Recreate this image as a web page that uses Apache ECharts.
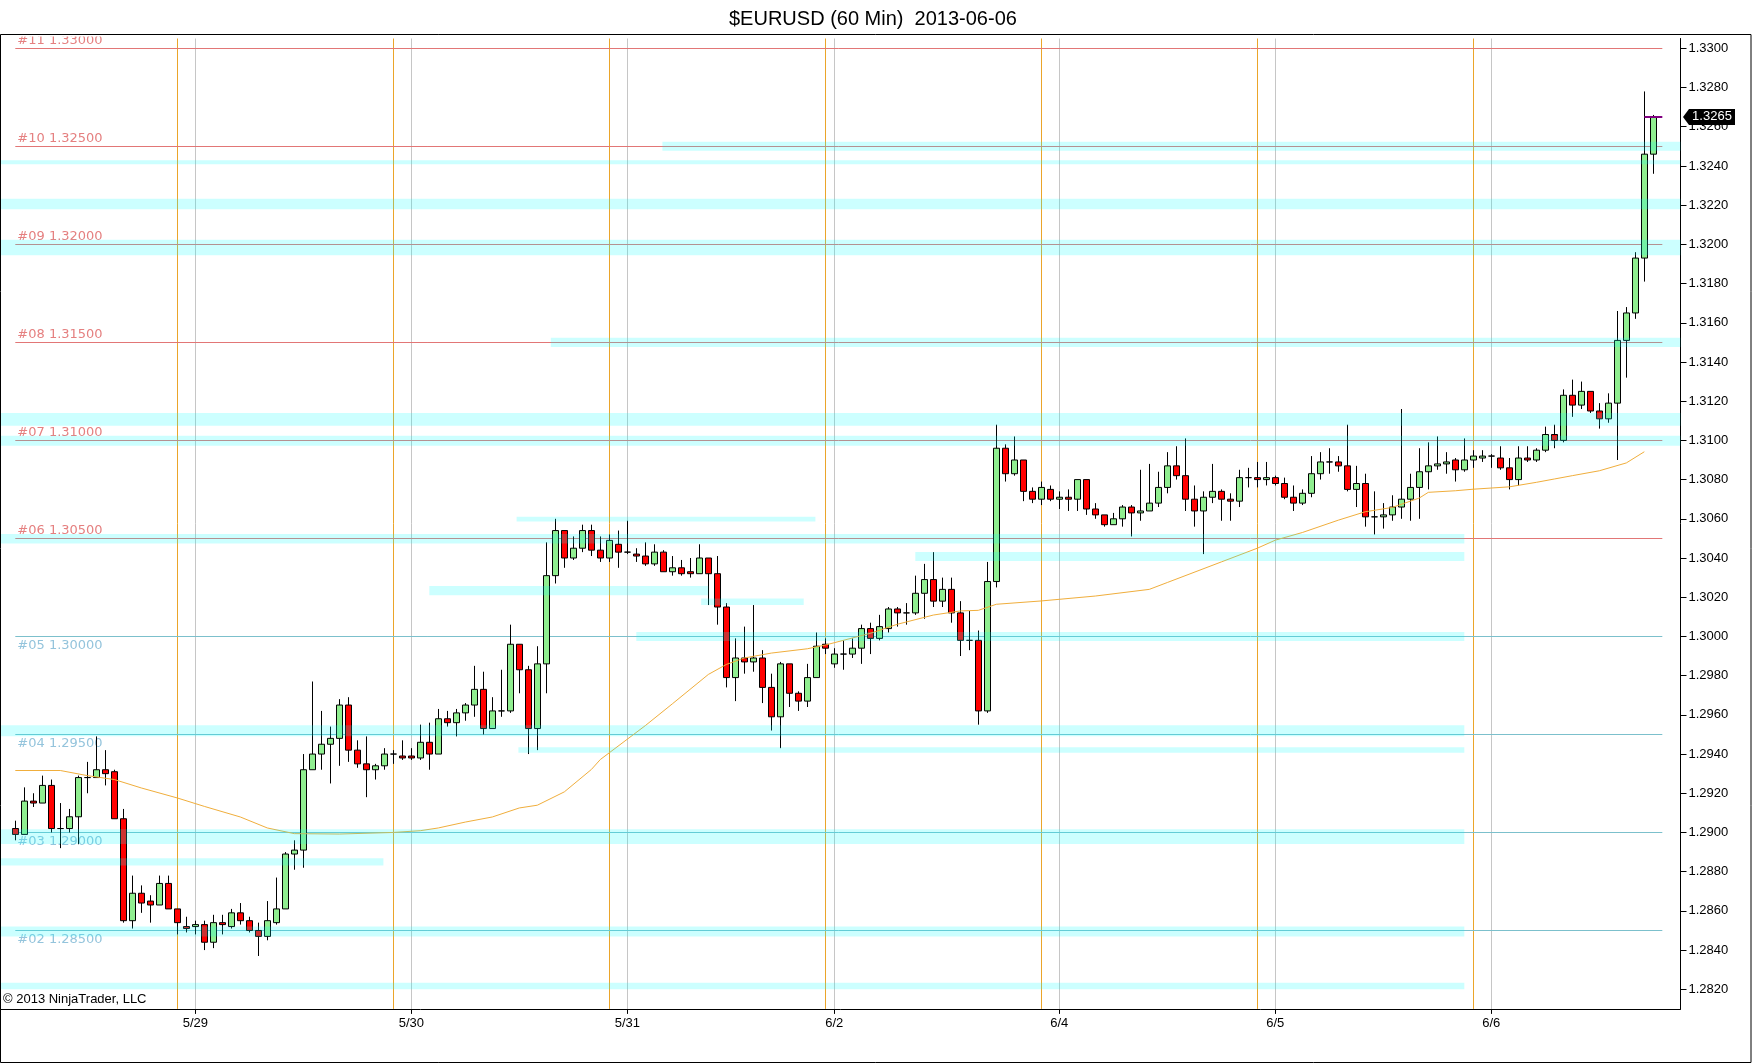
<!DOCTYPE html>
<html><head><meta charset="utf-8">
<script src="https://cdn.jsdelivr.net/npm/echarts@6/dist/echarts.min.js"></script>
<style>html,body{margin:0;padding:0;background:#fff}#c{width:1752px;height:1064px}</style>
</head><body><div id="c"></div>
<script>
// ---- Data (60 min EURUSD bars, index 0..182) ----
const opens = [1.2902,1.2899,1.2916,1.2915,1.2924,1.2902,1.2902,1.2908,1.2928,1.2928,
1.2932,1.2931,1.2907,1.2855,1.2869,1.2865,1.2863,1.2874,1.2861,1.2852,
1.2852,1.2853,1.2844,1.2854,1.2852,1.2859,1.2855,1.2850,1.2847,1.2854,
1.2861,1.2889,1.2891,1.2932,1.2940,1.2945,1.2948,1.2965,1.2942,1.2935,
1.2932,1.2934,1.2940,1.2939,1.2939,1.2938,1.2946,1.2940,1.2958,1.2956,
1.2961,1.2965,1.2973,1.2953,1.2962,1.2962,1.2996,1.2983,1.2953,1.2986,
1.3031,1.3054,1.3040,1.3045,1.3054,1.3044,1.3040,1.3047,1.3043,1.3042,
1.3041,1.3037,1.3043,1.3033,1.3035,1.3033,1.3032,1.3040,1.3032,1.3015,
1.2979,1.2989,1.2987,1.2989,1.2974,1.2959,1.2986,1.2971,1.2967,1.2979,
1.2996,1.2986,1.2991,1.2991,1.2994,1.3004,1.2999,1.3004,1.3014,1.3012,
1.3012,1.3022,1.3029,1.3018,1.3024,1.3012,1.2998,1.2998,1.2962,1.3028,
1.3096,1.3083,1.3090,1.3074,1.3070,1.3075,1.3070,1.3071,1.3070,1.3080,
1.3065,1.3062,1.3057,1.3060,1.3066,1.3063,1.3064,1.3068,1.3076,1.3087,
1.3082,1.3070,1.3064,1.3071,1.3074,1.3070,1.3069,1.3081,1.3081,1.3080,
1.3081,1.3078,1.3071,1.3068,1.3073,1.3083,1.3089,1.3089,1.3087,1.3075,
1.3078,1.3061,1.3061,1.3062,1.3066,1.3070,1.3076,1.3084,1.3087,1.3088,
1.3090,1.3085,1.3090,1.3091,1.3092,1.3091,1.3086,1.3080,1.3091,1.3090,
1.3095,1.3103,1.3100,1.3123,1.3118,1.3125,1.3115,1.3111,1.3119,1.3151,
1.3165,1.3193,1.3246];
const closes = [1.2899,1.2916,1.2915,1.2924,1.2902,1.2902,1.2908,1.2928,1.2928,1.2932,
1.2930,1.2907,1.2855,1.2869,1.2864,1.2863,1.2874,1.2861,1.2854,1.2851,
1.2853,1.2844,1.2854,1.2853,1.2859,1.2855,1.2850,1.2847,1.2855,1.2861,
1.2889,1.2891,1.2932,1.2940,1.2945,1.2948,1.2965,1.2942,1.2935,1.2932,
1.2934,1.2940,1.2940,1.2938,1.2938,1.2946,1.2940,1.2958,1.2956,1.2961,
1.2965,1.2973,1.2953,1.2962,1.2962,1.2996,1.2983,1.2953,1.2986,1.3031,
1.3054,1.3040,1.3045,1.3054,1.3044,1.3040,1.3049,1.3043,1.3043,1.3041,
1.3037,1.3043,1.3033,1.3035,1.3032,1.3032,1.3040,1.3032,1.3015,1.2979,
1.2989,1.2987,1.2989,1.2974,1.2959,1.2986,1.2971,1.2967,1.2979,1.2995,
1.2994,1.2991,1.2991,1.2994,1.3004,1.2999,1.3005,1.3014,1.3012,1.3012,
1.3022,1.3029,1.3018,1.3024,1.3012,1.2998,1.2998,1.2962,1.3028,1.3096,
1.3083,1.3090,1.3074,1.3070,1.3076,1.3070,1.3071,1.3070,1.3080,1.3065,
1.3062,1.3057,1.3060,1.3066,1.3063,1.3064,1.3068,1.3076,1.3087,1.3082,
1.3070,1.3064,1.3071,1.3074,1.3070,1.3069,1.3081,1.3081,1.3080,1.3081,
1.3078,1.3071,1.3068,1.3073,1.3083,1.3089,1.3089,1.3087,1.3075,1.3078,
1.3061,1.3061,1.3062,1.3066,1.3070,1.3076,1.3084,1.3087,1.3088,1.3089,
1.3085,1.3090,1.3092,1.3092,1.3092,1.3086,1.3080,1.3091,1.3090,1.3095,
1.3103,1.3100,1.3123,1.3118,1.3125,1.3115,1.3111,1.3119,1.3151,1.3165,
1.3193,1.3246,1.3265];
const lows = [1.2896,1.2899,1.2913,1.2915,1.2900,1.2892,1.2900,1.2894,1.2920,1.2928,
1.2924,1.2907,1.2854,1.2851,1.2859,1.2854,1.2863,1.2861,1.2848,1.2849,
1.2848,1.2840,1.2841,1.2848,1.2851,1.2853,1.2849,1.2837,1.2845,1.2853,
1.2861,1.2881,1.2882,1.2932,1.2932,1.2925,1.2934,1.2936,1.2933,1.2918,
1.2927,1.2932,1.2935,1.2937,1.2937,1.2937,1.2932,1.2940,1.2954,1.2949,
1.2957,1.2959,1.2950,1.2953,1.2959,1.2961,1.2971,1.2940,1.2942,1.2971,
1.3027,1.3035,1.3039,1.3043,1.3041,1.3038,1.3038,1.3035,1.3042,1.3038,
1.3036,1.3036,1.3033,1.3031,1.3031,1.3030,1.3032,1.3016,1.3006,1.2974,
1.2967,1.2981,1.2982,1.2966,1.2952,1.2943,1.2964,1.2962,1.2964,1.2979,
1.2991,1.2984,1.2983,1.2989,1.2986,1.2991,1.2998,1.3002,1.3005,1.3006,
1.3011,1.3009,1.3015,1.3015,1.3007,1.2990,1.2993,1.2955,1.2961,1.3025,
1.3079,1.3082,1.3069,1.3068,1.3067,1.3069,1.3065,1.3064,1.3064,1.3062,
1.3060,1.3056,1.3057,1.3056,1.3051,1.3059,1.3064,1.3066,1.3073,1.3080,
1.3064,1.3056,1.3042,1.3068,1.3059,1.3059,1.3066,1.3076,1.3076,1.3077,
1.3077,1.3070,1.3064,1.3067,1.3071,1.3080,1.3083,1.3084,1.3074,1.3066,
1.3056,1.3052,1.3055,1.3059,1.3060,1.3059,1.3060,1.3075,1.3085,1.3083,
1.3079,1.3084,1.3086,1.3089,1.3086,1.3085,1.3075,1.3077,1.3089,1.3089,
1.3094,1.3096,1.3099,1.3112,1.3116,1.3114,1.3106,1.3109,1.3090,1.3132,
1.3162,1.3181,1.3236];
const highs = [1.2906,1.2923,1.2920,1.2929,1.2927,1.2915,1.2912,1.2929,1.2936,1.2949,
1.2942,1.2932,1.2912,1.2878,1.2873,1.2868,1.2878,1.2878,1.2861,1.2857,
1.2855,1.2855,1.2858,1.2858,1.2861,1.2864,1.2857,1.2854,1.2865,1.2877,
1.2890,1.2896,1.2940,1.2977,1.2962,1.2954,1.2968,1.2969,1.2947,1.2949,
1.2935,1.2943,1.2942,1.2947,1.2943,1.2955,1.2956,1.2963,1.2962,1.2963,
1.2966,1.2985,1.2982,1.2969,1.2983,1.3006,1.2996,1.2985,1.2995,1.3048,
1.3060,1.3054,1.3051,1.3057,1.3057,1.3051,1.3052,1.3054,1.3059,1.3045,
1.3048,1.3047,1.3044,1.3041,1.3039,1.3040,1.3047,1.3040,1.3041,1.3017,
1.2999,1.3005,1.3016,1.2993,1.2981,1.2987,1.2986,1.2972,1.2986,1.3002,
1.2999,1.2994,1.2998,1.2999,1.3006,1.3007,1.3011,1.3015,1.3015,1.3017,
1.3031,1.3037,1.3043,1.3030,1.3030,1.3018,1.3013,1.3003,1.3038,1.3108,
1.3098,1.3102,1.3090,1.3076,1.3079,1.3077,1.3074,1.3075,1.3080,1.3080,
1.3068,1.3062,1.3063,1.3067,1.3067,1.3085,1.3088,1.3084,1.3094,1.3097,
1.3101,1.3077,1.3074,1.3088,1.3075,1.3073,1.3085,1.3086,1.3089,1.3089,
1.3082,1.3081,1.3077,1.3075,1.3092,1.3094,1.3096,1.3092,1.3108,1.3087,
1.3083,1.3074,1.3068,1.3072,1.3116,1.3083,1.3096,1.3099,1.3102,1.3094,
1.3091,1.3101,1.3095,1.3095,1.3093,1.3097,1.3091,1.3097,1.3097,1.3096,
1.3107,1.3108,1.3126,1.3131,1.3130,1.3125,1.3119,1.3124,1.3166,1.3168,
1.3196,1.3278,1.3266];

// moving average read at sample bars
const maBars   = [0,5,8,11,14,18,21,25,28,31,36,42,45,47,50,53,56,58,61,64,65,70,73,77,79,81,84,88,90,95,98,102,105,107,109,114,120,126,128,134,138,140,143,147,150,153,156,157,160,162,166,169,171,173,176,179,181];
const maValues = [1.29316,1.29316,1.29290,1.29270,1.29227,1.29176,1.29133,1.29079,1.29023,1.28994,1.28992,1.29000,1.29009,1.29023,1.29053,1.29079,1.29125,1.29139,1.29207,1.29321,1.29372,1.29545,1.29656,1.29806,1.29857,1.29890,1.29915,1.29937,1.29956,1.30016,1.30062,1.30109,1.30130,1.30133,1.30164,1.30181,1.30206,1.30240,1.30275,1.30380,1.30450,1.30491,1.30530,1.30593,1.30636,1.30658,1.30706,1.30735,1.30743,1.30751,1.30763,1.30786,1.30803,1.30820,1.30845,1.30885,1.30942];

// numbered price levels
const levelNames  = ['#02','#03','#04','#05','#06','#07','#08','#09','#10','#11'];
const levelPrices = [1.285,1.290,1.295,1.300,1.305,1.310,1.315,1.320,1.325,1.330];

// zones: low/high price, first/last bar (null = chart edge)
const zoneLow   = [1.32477,1.32408,1.32179,1.31944,1.31476,1.31075,1.30973,1.30586,1.30474,1.30385,1.30210,1.30160,1.29977,1.29491,1.29406,1.28941,1.28832,1.28469,1.28200];
const zoneHigh  = [1.32523,1.32429,1.32233,1.32024,1.31523,1.31140,1.31024,1.30610,1.30522,1.30431,1.30257,1.30194,1.30023,1.29547,1.29435,1.29016,1.28868,1.28520,1.28234];
const zoneStart = [71.9,null,null,null,59.5,null,null,55.7,null,100,46.0,76.2,69.0,null,55.9,null,null,null,null];
const zoneEnd   = [null,null,null,null,null,null,null,88.9,161,161,77.0,87.6,161,161,161,161,40.9,161,161];

// time axis
const sessionBreakBars = [18,42,66,90,114,138,162];
const dayStartBars     = [20,44,68,91,116,140,164];
const dayLabels        = ['5/29','5/30','5/31','6/2','6/4','6/5','6/6'];
const priceTickLabels  = ['1.2820','1.2840','1.2860','1.2880','1.2900','1.2920','1.2940','1.2960','1.2980','1.3000','1.3020','1.3040','1.3060','1.3080','1.3100','1.3120','1.3140','1.3160','1.3180','1.3200','1.3220','1.3240','1.3260','1.3280','1.3300'];

// ---- Chart ----
const FONT = 'Liberation Sans, Arial, Helvetica, sans-serif';
const LFONT = 'DejaVu Sans, Verdana, sans-serif';
const X_MIN = -1.59, X_MAX = 185.02;
const Y_MIN = 1.2810, Y_MAX = 1.3305;
const lastBar = closes.length - 1;
const lastPrice = closes[lastBar];

const candleData = opens.map((o, i) => [i, o, closes[i], lows[i], highs[i]]);
const maData = maBars.map((b, i) => [b, maValues[i]]);

const levelLines = levelPrices.map((p, i) => {
  const upper = p >= 1.305;
  return [
    { coord: [0, p],
      lineStyle: { color: upper ? '#e27676' : '#7cc0cc', width: 1, type: 'solid' },
      label: { show: true,
        position: upper ? 'insideStartTop' : 'insideStartBottom',
        distance: upper ? [2, 1] : [2, 3],
        formatter: levelNames[i] + ' ' + p.toFixed(5),
        color: upper ? '#e58080' : '#94c4dc', fontSize: 13, fontFamily: LFONT } },
    { coord: [lastBar + 1, p] }
  ];
});
const verticalLines = [
  ...sessionBreakBars.map(b => ({ xAxis: b, lineStyle: { color: '#eba52a', width: 1, type: 'solid' } })),
  ...dayStartBars.map(b => ({ xAxis: b, lineStyle: { color: '#c6c6c6', width: 1, type: 'solid' } }))
];
const zones = zoneLow.map((lo, i) => [
  { xAxis: zoneStart[i] == null ? X_MIN : zoneStart[i], yAxis: zoneHigh[i] },
  { xAxis: zoneEnd[i] == null ? X_MAX : zoneEnd[i], yAxis: lo }
]);

const chart = echarts.init(document.getElementById('c'), null, { renderer: 'canvas' });
chart.setOption({
  animation: false,
  backgroundColor: '#fff',
  title: {
    text: '$EURUSD (60 Min)  2013-06-06', left: 724, top: 4, z: 200,
    textStyle: { fontSize: 20, fontWeight: 'normal', color: '#000', fontFamily: FONT }
  },
  grid: { left: 1, top: 38.5, width: 1679.5, height: 970.4, containLabel: false },
  xAxis: {
    type: 'value', min: X_MIN, max: X_MAX,
    splitLine: { show: false },
    axisLine: { show: true, onZero: false, lineStyle: { color: '#000', width: 1 } },
    axisTick: { show: true, length: 5, lineStyle: { color: '#000' }, customValues: dayStartBars },
    axisLabel: { customValues: dayStartBars, margin: 8, color: '#000', fontSize: 13, fontFamily: FONT,
      formatter: v => { const k = dayStartBars.indexOf(Math.round(v)); return k >= 0 ? dayLabels[k] : ''; } }
  },
  yAxis: {
    type: 'value', position: 'right', min: Y_MIN, max: Y_MAX,
    splitLine: { show: false },
    axisLine: { show: true, onZero: false, lineStyle: { color: '#000', width: 1 } },
    axisTick: { show: true, inside: false, length: 6, lineStyle: { color: '#000' },
      customValues: priceTickLabels.map(Number) },
    axisLabel: { customValues: priceTickLabels.map(Number), margin: 8, color: '#000', fontSize: 13,
      fontFamily: FONT, formatter: v => v.toFixed(4) }
  },
  graphic: [
    { type: 'rect', z: 90, silent: true, shape: { x: 0, y: 0, width: 1752, height: 36.5 }, style: { fill: '#fff' } },
    { type: 'rect', z: 95, silent: true, shape: { x: 0.5, y: 34.5, width: 1750.5, height: 1028 },
      style: { fill: null, stroke: '#000', lineWidth: 1 } },
    { type: 'text', z: 95, left: 3, top: 993, silent: true,
      style: { text: '\u00A9 2013 NinjaTrader, LLC', fontSize: 13, fontFamily: FONT, fill: '#000' } }
  ],
  series: [
    {
      name: 'levels', type: 'line', data: [], z: 1,
      markLine: { z: 1, silent: true, symbol: ['none', 'none'], label: { show: false },
        data: [...verticalLines, ...levelLines] }
    },
    {
      name: '$EURUSD', type: 'candlestick', z: 2,
      encode: { x: 0, y: [1, 2, 3, 4] },
      data: candleData, barWidth: 7,
      itemStyle: { color: '#90ee90', color0: '#ff0000', borderColor: '#000', borderColor0: '#000',
        borderColorDoji: '#000', borderWidth: 1 },
      markLine: { z: 6, silent: true, symbol: ['none', 'none'], label: { show: false },
        data: [[{ coord: [lastBar - 1, lastPrice], lineStyle: { color: '#800080', width: 2, type: 'solid' } },
                { coord: [lastBar + 1, lastPrice] }]] },
      markPoint: { z: 7, silent: true,
        data: [{ coord: [X_MAX, lastPrice], symbol: 'path://M0,8L6,0L52,0L52,16L6,16Z',
          symbolSize: [52, 16], symbolKeepAspect: false, symbolOffset: [28.5, 0],
          itemStyle: { color: '#000' },
          label: { show: true, position: 'inside', offset: [3, 0], formatter: lastPrice.toFixed(4),
            color: '#fff', fontSize: 13, fontFamily: FONT } }] }
    },
    {
      name: 'MA', type: 'line', z: 3, data: maData, showSymbol: false, symbol: 'none',
      smooth: false,
      lineStyle: { color: '#f0ae3c', width: 1 }, silent: true
    },
    {
      name: 'zones', type: 'line', data: [], z: 4,
      markArea: { z: 4, silent: true, itemStyle: { color: 'rgba(0,255,255,0.2)' }, label: { show: false },
        data: zones }
    }
  ]
});
</script>
</body></html>
